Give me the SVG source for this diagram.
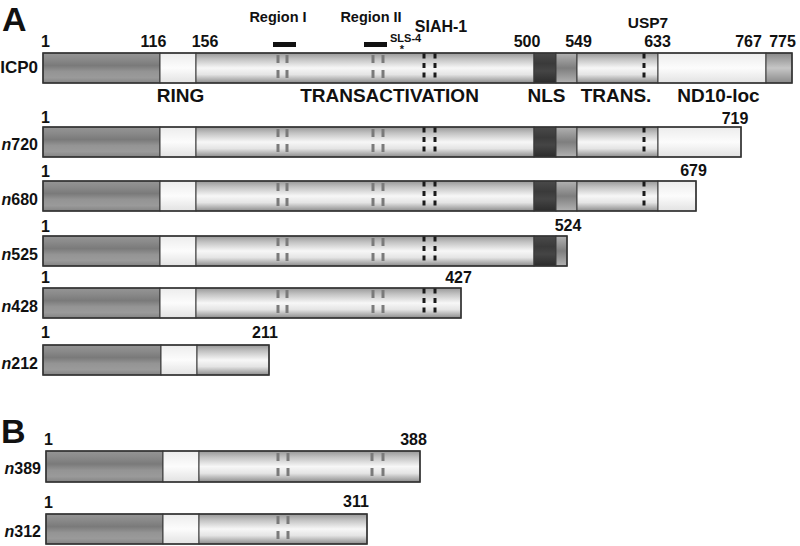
<svg xmlns="http://www.w3.org/2000/svg" xmlns:xlink="http://www.w3.org/1999/xlink" width="800" height="546" viewBox="0 0 800 546">
<style>
text{font-family:"Liberation Sans",Arial,sans-serif;font-weight:bold;fill:#111}
.num{font-size:16px;text-anchor:middle}
.one{font-size:16px}
.lbl{font-size:16px;text-anchor:end}
.dom{font-size:19px;text-anchor:middle}
.big{font-size:34px}
.top{font-size:14.5px;text-anchor:middle}
.seg{stroke:#3a3a3a;stroke-width:1}
.out{fill:none;stroke:#333;stroke-width:1.5}
.dk{fill:url(#gDark)}
.wh{fill:url(#gWhite)}
.lt{fill:url(#gLight)}
.nl{fill:url(#gNLS)}
.md{fill:url(#gMid)}
.en{fill:url(#gEnd)}
.gd{stroke:#7a7a7a;stroke-width:3;stroke-dasharray:8 7}
.bd{stroke:#1a1a1a;stroke-width:3;stroke-dasharray:5 4.5}
</style>
<defs>
<linearGradient id="gDark" x1="0" y1="0" x2="0" y2="1">
<stop offset="0" stop-color="#959595"/><stop offset="0.2" stop-color="#8a8a8a"/><stop offset="0.42" stop-color="#7a7a7a"/><stop offset="0.62" stop-color="#949494"/><stop offset="0.82" stop-color="#9a9a9a"/><stop offset="1" stop-color="#848484"/>
</linearGradient>
<linearGradient id="gWhite" x1="0" y1="0" x2="0" y2="1">
<stop offset="0" stop-color="#ececec"/><stop offset="0.5" stop-color="#fcfcfc"/><stop offset="1" stop-color="#e2e2e2"/>
</linearGradient>
<linearGradient id="gLight" x1="0" y1="0" x2="0" y2="1">
<stop offset="0" stop-color="#989898"/><stop offset="0.2" stop-color="#c2c2c2"/><stop offset="0.5" stop-color="#f7f7f7"/><stop offset="0.72" stop-color="#e4e4e4"/><stop offset="1" stop-color="#8c8c8c"/>
</linearGradient>
<linearGradient id="gNLS" x1="0" y1="0" x2="0" y2="1">
<stop offset="0" stop-color="#4a4a4a"/><stop offset="0.35" stop-color="#3a3a3a"/><stop offset="0.6" stop-color="#454545"/><stop offset="1" stop-color="#2c2c2c"/>
</linearGradient>
<linearGradient id="gMid" x1="0" y1="0" x2="0" y2="1">
<stop offset="0" stop-color="#b2b2b2"/><stop offset="0.5" stop-color="#7e7e7e"/><stop offset="1" stop-color="#b2b2b2"/>
</linearGradient>
<linearGradient id="gEnd" x1="0" y1="0" x2="0" y2="1">
<stop offset="0" stop-color="#888888"/><stop offset="0.5" stop-color="#c6c6c6"/><stop offset="1" stop-color="#8a8a8a"/>
</linearGradient>
<line id="gdash" class="gd" x1="0" y1="2" x2="0" y2="25"/>
<line id="bdash" class="bd" x1="0" y1="0.5" x2="0" y2="24.5"/>
</defs>
<rect width="800" height="546" fill="#ffffff"/>

<text class="big" x="2" y="31">A</text>
<text class="big" x="1" y="443">B</text>

<g id="annotations">
<text class="top" x="278" y="22">Region I</text>
<rect x="273" y="42" width="23" height="5" fill="#111"/>
<text class="top" x="371" y="22">Region II</text>
<rect x="364" y="42" width="23" height="5" fill="#111"/>
<text x="390" y="42" style="font-size:11px">SLS-4</text>
<text x="402" y="53" style="font-size:11px;text-anchor:middle">*</text>
<text class="num" x="441" y="32">SIAH-1</text>
<text class="num" x="648" y="28" style="font-size:15.5px">USP7</text>
</g>

<g id="ICP0">
<text class="lbl" x="38" y="73" style="font-size:17px">ICP0</text>
<text class="one" x="41" y="47">1</text>
<text class="num" x="153.5" y="47">116</text>
<text class="num" x="205" y="47">156</text>
<text class="num" x="527" y="47">500</text>
<text class="num" x="578.5" y="47">549</text>
<text class="num" x="657.5" y="47">633</text>
<text class="num" x="748.5" y="47">767</text>
<text class="num" x="782.5" y="47">775</text>
<rect class="seg dk" x="43" y="53" width="117" height="30"/>
<rect class="seg wh" x="160" y="53" width="36" height="30"/>
<rect class="seg lt" x="196" y="53" width="338" height="30"/>
<rect class="seg nl" x="534" y="53" width="22" height="30"/>
<rect class="seg md" x="556" y="53" width="21" height="30"/>
<rect class="seg lt" x="577" y="53" width="81" height="30"/>
<rect class="seg wh" x="658" y="53" width="108" height="30"/>
<rect class="seg en" x="766" y="53" width="26" height="30"/>
<rect class="out" x="43" y="53" width="749" height="30"/>
<use xlink:href="#gdash" x="278" y="53"/><use xlink:href="#gdash" x="287" y="53"/>
<use xlink:href="#gdash" x="373" y="53"/><use xlink:href="#gdash" x="383" y="53"/>
<use xlink:href="#bdash" x="424" y="53"/><use xlink:href="#bdash" x="435" y="53"/>
<use xlink:href="#bdash" x="644" y="53"/>
<text class="dom" x="180.5" y="102">RING</text>
<text class="dom" x="389.5" y="102">TRANSACTIVATION</text>
<text class="dom" x="546.5" y="102">NLS</text>
<text class="dom" x="616" y="102">TRANS.</text>
<text class="dom" x="718.5" y="102">ND10-loc</text>
</g>

<g id="n720">
<text class="lbl" x="38" y="150"><tspan font-style="italic">n</tspan>720</text>
<text class="one" x="41" y="123">1</text>
<text class="num" x="735" y="124">719</text>
<rect class="seg dk" x="43" y="127" width="117" height="30"/>
<rect class="seg wh" x="160" y="127" width="36" height="30"/>
<rect class="seg lt" x="196" y="127" width="338" height="30"/>
<rect class="seg nl" x="534" y="127" width="22" height="30"/>
<rect class="seg md" x="556" y="127" width="21" height="30"/>
<rect class="seg lt" x="577" y="127" width="81" height="30"/>
<rect class="seg wh" x="658" y="127" width="83" height="30"/>
<rect class="out" x="43" y="127" width="698" height="30"/>
<use xlink:href="#gdash" x="278" y="127"/><use xlink:href="#gdash" x="287" y="127"/>
<use xlink:href="#gdash" x="373" y="127"/><use xlink:href="#gdash" x="383" y="127"/>
<use xlink:href="#bdash" x="424" y="127"/><use xlink:href="#bdash" x="435" y="127"/>
<use xlink:href="#bdash" x="644" y="127"/>
</g>

<g id="n680">
<text class="lbl" x="38" y="205"><tspan font-style="italic">n</tspan>680</text>
<text class="one" x="41" y="177">1</text>
<text class="num" x="693.5" y="176">679</text>
<rect class="seg dk" x="43" y="181" width="117" height="30"/>
<rect class="seg wh" x="160" y="181" width="36" height="30"/>
<rect class="seg lt" x="196" y="181" width="338" height="30"/>
<rect class="seg nl" x="534" y="181" width="22" height="30"/>
<rect class="seg md" x="556" y="181" width="21" height="30"/>
<rect class="seg lt" x="577" y="181" width="81" height="30"/>
<rect class="seg wh" x="658" y="181" width="38" height="30"/>
<rect class="out" x="43" y="181" width="653" height="30"/>
<use xlink:href="#gdash" x="278" y="181"/><use xlink:href="#gdash" x="287" y="181"/>
<use xlink:href="#gdash" x="373" y="181"/><use xlink:href="#gdash" x="383" y="181"/>
<use xlink:href="#bdash" x="424" y="181"/><use xlink:href="#bdash" x="435" y="181"/>
<use xlink:href="#bdash" x="644" y="181"/>
</g>

<g id="n525">
<text class="lbl" x="38" y="260"><tspan font-style="italic">n</tspan>525</text>
<text class="one" x="41" y="232">1</text>
<text class="num" x="568" y="231">524</text>
<rect class="seg dk" x="43" y="236" width="117" height="30"/>
<rect class="seg wh" x="160" y="236" width="36" height="30"/>
<rect class="seg lt" x="196" y="236" width="338" height="30"/>
<rect class="seg nl" x="534" y="236" width="22" height="30"/>
<rect class="seg md" x="556" y="236" width="11" height="30"/>
<rect class="out" x="43" y="236" width="524" height="30"/>
<use xlink:href="#gdash" x="278" y="236"/><use xlink:href="#gdash" x="287" y="236"/>
<use xlink:href="#gdash" x="373" y="236"/><use xlink:href="#gdash" x="383" y="236"/>
<use xlink:href="#bdash" x="424" y="236"/><use xlink:href="#bdash" x="435" y="236"/>
</g>

<g id="n428">
<text class="lbl" x="38" y="312"><tspan font-style="italic">n</tspan>428</text>
<text class="one" x="41" y="283">1</text>
<text class="num" x="458.5" y="283">427</text>
<rect class="seg dk" x="43" y="288" width="117" height="30"/>
<rect class="seg wh" x="160" y="288" width="36" height="30"/>
<rect class="seg lt" x="196" y="288" width="265" height="30"/>
<rect class="out" x="43" y="288" width="418" height="30"/>
<use xlink:href="#gdash" x="278" y="288"/><use xlink:href="#gdash" x="287" y="288"/>
<use xlink:href="#gdash" x="373" y="288"/><use xlink:href="#gdash" x="383" y="288"/>
<use xlink:href="#bdash" x="424" y="288"/><use xlink:href="#bdash" x="435" y="288"/>
</g>

<g id="n212">
<text class="lbl" x="38" y="369"><tspan font-style="italic">n</tspan>212</text>
<text class="one" x="41" y="338">1</text>
<text class="num" x="265" y="338">211</text>
<rect class="seg dk" x="43" y="345" width="118" height="30"/>
<rect class="seg wh" x="161" y="345" width="36" height="30"/>
<rect class="seg lt" x="197" y="345" width="72" height="30"/>
<rect class="out" x="43" y="345" width="226" height="30"/>
</g>

<g id="n389">
<text class="lbl" x="41" y="474"><tspan font-style="italic">n</tspan>389</text>
<text class="one" x="44" y="445">1</text>
<text class="num" x="413.5" y="445">388</text>
<rect class="seg dk" x="46" y="451" width="117" height="31"/>
<rect class="seg wh" x="163" y="451" width="36" height="31"/>
<rect class="seg lt" x="199" y="451" width="221" height="31"/>
<rect class="out" x="46" y="451" width="374" height="31"/>
<use xlink:href="#gdash" x="278" y="451"/><use xlink:href="#gdash" x="288" y="451"/>
<use xlink:href="#gdash" x="372" y="451"/><use xlink:href="#gdash" x="383" y="451"/>
</g>

<g id="n312">
<text class="lbl" x="41" y="537"><tspan font-style="italic">n</tspan>312</text>
<text class="one" x="44" y="508">1</text>
<text class="num" x="356" y="507">311</text>
<rect class="seg dk" x="46" y="514" width="117" height="30"/>
<rect class="seg wh" x="163" y="514" width="36" height="30"/>
<rect class="seg lt" x="199" y="514" width="168" height="30"/>
<rect class="out" x="46" y="514" width="321" height="30"/>
<use xlink:href="#gdash" x="278" y="514"/><use xlink:href="#gdash" x="288" y="514"/>
</g>

<g id="connectors"></g>
</svg>
